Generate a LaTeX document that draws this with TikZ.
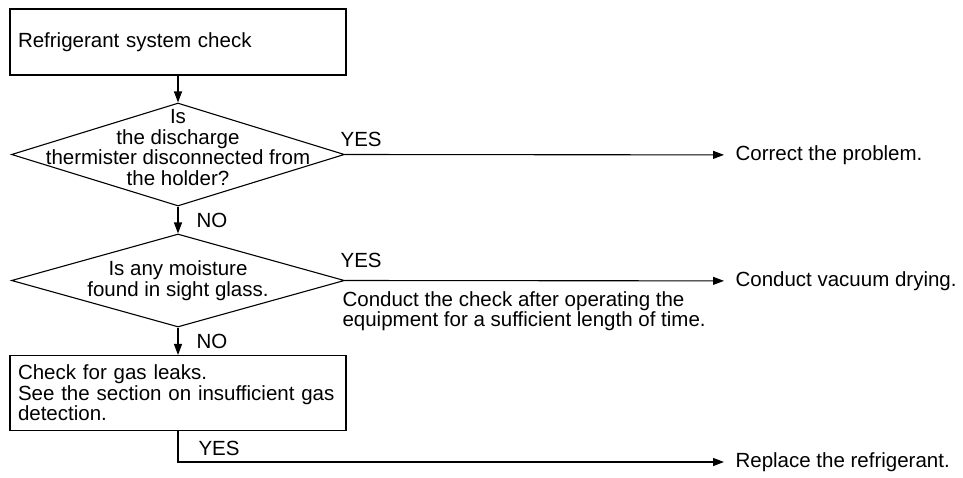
\documentclass[tikz,border=0pt]{standalone}
\usepackage{fontspec}
\setmainfont{Liberation Sans}
\usetikzlibrary{arrows.meta,shapes.geometric}

\begin{document}
\begin{tikzpicture}[x=1pt,y=-1pt,line width=1.1pt,
  every node/.style={font=\fontsize{20.5}{20.5}\selectfont},
  box/.style={draw,rectangle,minimum width=336pt,text width=320pt,inner xsep=8pt,align=left},
  decision/.style={draw,diamond,minimum width=333pt,inner sep=0pt},
  qtext/.style={align=center,inner sep=0pt},
  outcome/.style={anchor=west,inner xsep=11pt},
  lbl/.style={inner sep=0pt},
  arr/.style={-{Triangle[length=11pt,width=8pt]}}]
\useasboundingbox (0,0) rectangle (963,477);
\node[box,minimum height=66pt] at(178,42)(chk){Refrigerant system check};
\node[decision,minimum height=103pt] at(178,154.5)(q1){};
\node[qtext,yshift=7pt] at(q1)(q1t){Is\\the discharge\\thermister disconnected from\\the holder?};
\node[decision,minimum height=93pt] at(178,280.5)(q2){};
\node[qtext] at(q2)(q2t){Is any moisture\\found in sight glass.};
\node[box,minimum height=75pt] at(178,393)(leak){Check for gas leaks.\\See the section on insufficient gas\\detection.};
\node[outcome] at(724,155)(fix){Correct the problem.};
\node[outcome] at(724,281)(dry){Conduct vacuum drying.};
\node[outcome] at(724,462)(refill){Replace the refrigerant.};
\node[anchor=north west,align=left,inner sep=0pt] at(342,291)(note){Conduct the check after operating the\\equipment for a sufficient length of time.};
\draw[arr](chk.south)--(q1.north);
\draw[arr](q1.south)--node[lbl,right=18pt](no1){NO}(q2.north);
\draw[arr](q2.south)--node[lbl,right=18pt](no2){NO}(leak.north);
\draw[arr](q1.east)--node[lbl,pos=0,anchor=base west,xshift=-5pt,yshift=8pt](yes1){YES}(fix);
\draw[arr](q2.east)--node[lbl,pos=0,anchor=base west,xshift=-5pt,yshift=13pt](yes2){YES}(dry);
\draw[arr](leak.south)|-node[lbl,pos=0.5,anchor=base west,xshift=20pt,yshift=7pt](yes3){YES}(refill);
\end{tikzpicture}
\end{document}
